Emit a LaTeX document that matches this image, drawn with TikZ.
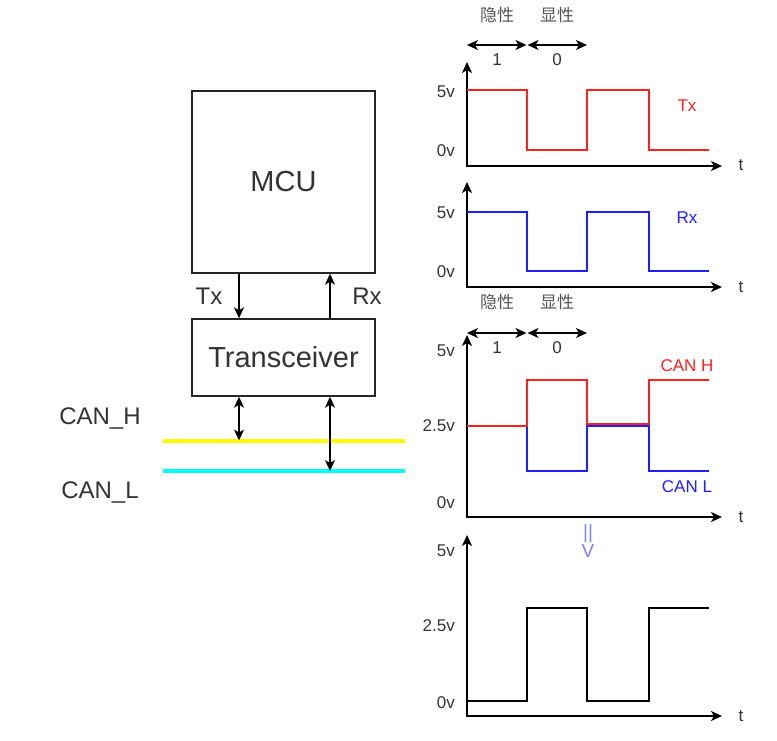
\documentclass[tikz,border=0pt]{standalone}
\usepackage{fontspec}
\setmainfont{Liberation Sans}
\newfontfamily\cjk{Noto Sans CJK SC}
\usetikzlibrary{arrows.meta}
\definecolor{txt}{HTML}{333333}
\definecolor{cjktxt}{HTML}{555555}
\definecolor{sigred}{HTML}{FF2020}
\definecolor{sigblue}{HTML}{2020FF}
\definecolor{lightblue}{HTML}{8080FF}
\definecolor{busyellow}{HTML}{FFFF00}
\definecolor{buscyan}{HTML}{00FFFF}
\begin{document}
\begin{tikzpicture}[x=1pt,y=-1pt,
  >={Stealth[length=11pt,width=10pt,inset=3pt]},
  box/.style={draw=black!85, line width=1.4pt, fill=white, text=txt, inner sep=0pt, font=\fontsize{29}{34}\selectfont},
  conn/.style={draw=black, line width=1.5pt},
  axis/.style={draw=black, line width=1.7pt, <->},
  wave/.style={line width=1.7pt},
  bigl/.style={text=txt, inner sep=0pt, font=\fontsize{24}{28}\selectfont},
  lbl/.style={text=txt, inner sep=0pt, font=\fontsize{17}{20}\selectfont},
  cjkl/.style={text=cjktxt, inner sep=0pt, font=\cjk\fontsize{17}{20}\selectfont},
  bus/.style={line width=4pt}
]
\useasboundingbox (0,0) rectangle (777,740);

% ---- block diagram ----
\node[box, minimum width=183pt, minimum height=182pt] (mcu) at (283.5,182) {MCU};
\node[box, minimum width=183pt, minimum height=77pt] (trx) at (283.5,357.5) {Transceiver};
\coordinate (txx) at (239,0);
\coordinate (rxx) at (330,0);
\draw[conn,->] (mcu.south -| txx) -- (trx.north -| txx);
\draw[conn,->] (trx.north -| rxx) -- (mcu.south -| rxx);
\node[bigl] (txlab) at (209,296) {Tx};
\node[bigl] (rxlab) at (367,296) {Rx};

\coordinate (canhL) at (163,440.5);
\coordinate (canhR) at (405,440.5);
\coordinate (canlL) at (163,471);
\coordinate (canlR) at (405,471);
\draw[bus, busyellow] (canhL) -- (canhR);
\draw[bus, buscyan] (canlL) -- (canlR);
\draw[conn,<->] (trx.south -| txx) -- (canhL -| txx);
\draw[conn,<->] (trx.south -| rxx) -- (canlL -| rxx);
\node[bigl] (canh) at (100,418) {CAN\_H};
\node[bigl] (canl) at (100,492) {CAN\_L};

% ---- top header ----
\node[cjkl] (yin1) at (497,15) {隐性};
\node[cjkl] (xian1) at (557,15) {显性};
\coordinate (h1a) at (467,45);
\coordinate (h1b) at (526.5,45);
\coordinate (h1c) at (527.5,45);
\coordinate (h1d) at (587,45);
\draw[conn,<->] (h1a) -- (h1b);
\draw[conn,<->] (h1c) -- (h1d);
\node[lbl] (one1) at (497,60) {1};
\node[lbl] (zero1) at (557,60) {0};

% ---- graph 1: Tx ----
\draw[axis] (467,62) -- (467,166) -- (722,166);
\draw[wave, sigred] (467,90) -- (527,90) -- (527,150) -- (587,150) -- (587,90) -- (649,90) -- (649,150) -- (709,150);
\node[lbl, anchor=east] (g1a) at (455,92) {5v};
\node[lbl, anchor=east] (g1b) at (455,151) {0v};
\node[lbl] (g1t) at (741,165) {t};
\node[lbl, text=sigred] (g1s) at (687,106) {Tx};

% ---- graph 2: Rx ----
\draw[axis] (467,182) -- (467,287) -- (722,287);
\draw[wave, sigblue] (467,212) -- (527,212) -- (527,271) -- (587,271) -- (587,212) -- (649,212) -- (649,271) -- (709,271);
\node[lbl, anchor=east] (g2a) at (455,213) {5v};
\node[lbl, anchor=east] (g2b) at (455,272) {0v};
\node[lbl] (g2t) at (741,287) {t};
\node[lbl, text=sigblue] (g2s) at (687,218) {Rx};

% ---- middle header ----
\node[cjkl] (yin2) at (497,302) {隐性};
\node[cjkl] (xian2) at (557,302) {显性};
\coordinate (h2a) at (467,333);
\coordinate (h2b) at (526.5,333);
\coordinate (h2c) at (527.5,333);
\coordinate (h2d) at (587,333);
\draw[conn,<->] (h2a) -- (h2b);
\draw[conn,<->] (h2c) -- (h2d);
\node[lbl] (one2) at (497,348) {1};
\node[lbl] (zero2) at (557,348) {0};

% ---- graph 3: CAN H / CAN L ----
\draw[axis] (467,335) -- (467,517) -- (722,517);
\draw[wave, sigblue] (467,426) -- (527,426) -- (527,471) -- (587,471) -- (587,426) -- (649,426) -- (649,471) -- (709,471);
\draw[wave, sigred] (467,426) -- (527,426) -- (527,380) -- (587,380) -- (587,424) -- (649,424) -- (649,380) -- (709,380);
\node[lbl, anchor=east] (g3a) at (455,351) {5v};
\node[lbl, anchor=east] (g3b) at (455,426) {2.5v};
\node[lbl, anchor=east] (g3c) at (455,503) {0v};
\node[lbl] (g3t) at (741,517) {t};
\node[lbl, text=sigred] (g3h) at (687,366) {CAN H};
\node[lbl, text=sigblue] (g3l) at (687,487) {CAN L};
\node[lbl, text=lightblue, align=center, font=\fontsize{19}{19}\selectfont] (eqv) at (588,541) {||\\V};

% ---- graph 4: differential ----
\draw[axis] (467,535) -- (467,716) -- (722,716);
\draw[wave, black] (467,701) -- (527,701) -- (527,608) -- (587,608) -- (587,701) -- (649,701) -- (649,608) -- (709,608);
\node[lbl, anchor=east] (g4a) at (455,551) {5v};
\node[lbl, anchor=east] (g4b) at (455,626) {2.5v};
\node[lbl, anchor=east] (g4c) at (455,703) {0v};
\node[lbl] (g4t) at (741,716) {t};
\end{tikzpicture}
\end{document}
